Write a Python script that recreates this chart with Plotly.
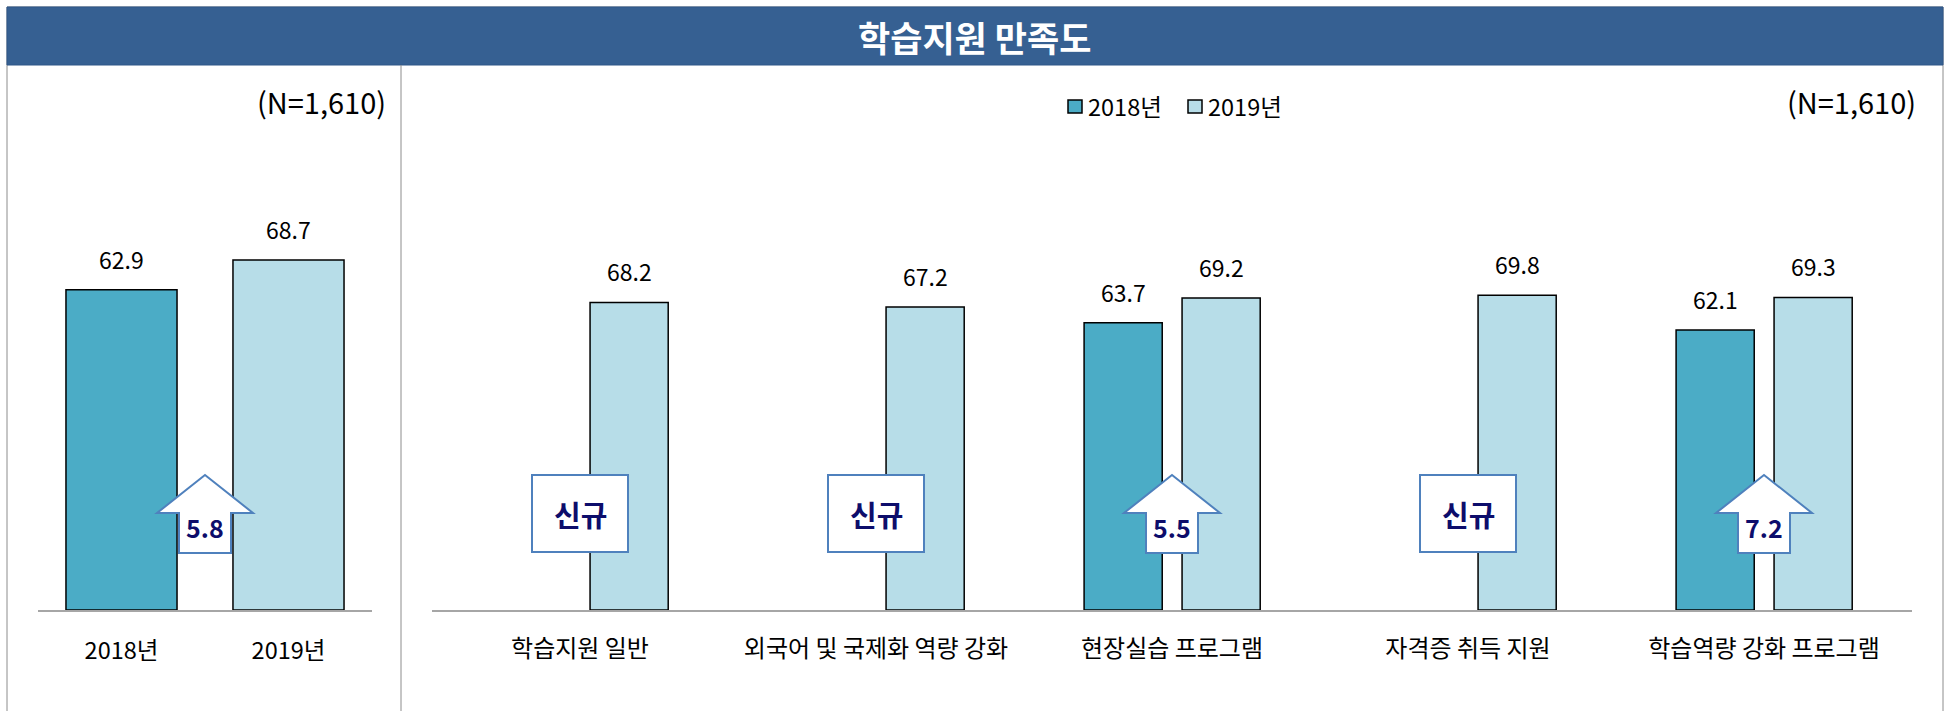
import plotly.graph_objects as go

# ---------------- data ----------------
title_text = "학습지원 만족도"
n_label = "(N=1,610)"
years = ["2018년", "2019년"]
overall_values = [62.9, 68.7]

categories = ["학습지원 일반", "외국어 및 국제화 역량 강화", "현장실습 프로그램",
              "자격증 취득 지원", "학습역량 강화 프로그램"]
values_2018 = [None, None, 63.7, None, 62.1]
values_2019 = [68.2, 67.2, 69.2, 69.8, 69.3]
new_label = "신규"

# ---------------- style ----------------
W, H = 1951, 711
FONT = "Noto Sans CJK KR"
C2018 = "#4BACC6"
C2019 = "#B7DDE8"
NAVY = "#0D0D6B"
ARROW_LINE = "#4F81BD"
BORDER = "#8C8C8C"
AXIS = "#A6A6A6"


def px(x):
    return x / W


def py(y):
    return 1 - y / H


Y_DOMAIN = [py(610), py(200)]
LEFT_RANGE = [0, 80.5]
RIGHT_RANGE = [0, 90.9]

BAR_W = 0.264
OFF_2018 = -0.297
OFF_2019 = 0.034

fig = go.Figure()

# left panel: overall
fig.add_trace(go.Bar(
    x=years, y=overall_values, xaxis="x", yaxis="y",
    marker=dict(color=[C2018, C2019], line=dict(color="black", width=1.5)),
    width=0.665, showlegend=False, hoverinfo="x+y"))

# right panel
fig.add_trace(go.Bar(
    x=categories, y=values_2018, xaxis="x2", yaxis="y2", name="2018년",
    marker=dict(color=C2018, line=dict(color="black", width=1.5)),
    width=BAR_W, offset=OFF_2018, showlegend=False))
fig.add_trace(go.Bar(
    x=categories, y=values_2019, xaxis="x2", yaxis="y2", name="2019년",
    marker=dict(color=C2019, line=dict(color="black", width=1.5)),
    width=BAR_W, offset=OFF_2019, showlegend=False))

annotations = []
shapes = []


def ann(**kw):
    kw.setdefault("showarrow", False)
    kw.setdefault("xanchor", "center")
    kw.setdefault("yanchor", "middle")
    annotations.append(kw)


VAL_FONT = dict(family=FONT, size=23, color="black")

# value labels
for i, v in enumerate(overall_values):
    ann(x=i, y=v, xref="x", yref="y", text=f"{v:.1f}", yshift=31, font=VAL_FONT)
for i, v in enumerate(values_2018):
    if v is not None:
        ann(x=i + OFF_2018 + BAR_W / 2, y=v, xref="x2", yref="y2",
            text=f"{v:.1f}", yshift=31, font=VAL_FONT)
for i, v in enumerate(values_2019):
    ann(x=i + OFF_2019 + BAR_W / 2, y=v, xref="x2", yref="y2",
        text=f"{v:.1f}", yshift=31, font=VAL_FONT)

# arrows / new boxes
TIP, HEAD, BOT = 475, 513, 553
HW, SW = 48, 26


def arrow_path():
    pts = [(0, TIP), (HW, HEAD), (SW, HEAD), (SW, BOT), (-SW, BOT), (-SW, HEAD), (-HW, HEAD)]
    return "M " + " L ".join(f"{x},{py(y):.5f}" for x, y in pts) + " Z"


def add_arrow(xref, xpos, diff):
    shapes.append(dict(type="path", xref=xref, yref="paper", xsizemode="pixel",
                       xanchor=xpos, path=arrow_path(), fillcolor="white",
                       line=dict(color=ARROW_LINE, width=2), layer="above"))
    ann(x=xpos, y=py(527), xref=xref, yref="paper", text=f"<b>{diff:.1f}</b>",
        font=dict(family=FONT, size=25, color=NAVY))


def add_new_box(xref, xpos):
    shapes.append(dict(type="rect", xref=xref, yref="paper", xsizemode="pixel",
                       xanchor=xpos, x0=-48, x1=48, y0=py(552), y1=py(475),
                       fillcolor="white", line=dict(color=ARROW_LINE, width=2),
                       layer="above"))
    ann(x=xpos, y=py(514), xref=xref, yref="paper", text=f"<b>{new_label}</b>",
        font=dict(family=FONT, size=29, color=NAVY))


add_arrow("x", 0.5, round(overall_values[1] - overall_values[0], 1))
for i, (a, b) in enumerate(zip(values_2018, values_2019)):
    if a is None:
        add_new_box("x2", i)
    else:
        add_arrow("x2", i, round(b - a, 1))

# frame
shapes += [
    dict(type="rect", xref="paper", yref="paper", x0=px(7), x1=px(1943), y0=py(712), y1=py(7),
         line=dict(color=BORDER, width=1), fillcolor="rgba(0,0,0,0)", layer="below"),
    dict(type="rect", xref="paper", yref="paper", x0=px(7), x1=px(1943), y0=py(65), y1=py(7),
         line=dict(color="#2F5788", width=1), fillcolor="#366092", layer="below"),
    dict(type="line", xref="paper", yref="paper", x0=px(401), x1=px(401), y0=py(65), y1=py(712),
         line=dict(color=BORDER, width=1), layer="below"),
]

ann(x=px(974), y=py(36), xref="paper", yref="paper", text=f"<b>{title_text}</b>",
    font=dict(family=FONT, size=35, color="white"))
ann(x=px(388), y=py(101), xref="paper", yref="paper", xanchor="right", text=n_label,
    font=dict(family=FONT, size=29, color="black"))
ann(x=px(1918), y=py(101), xref="paper", yref="paper", xanchor="right", text=n_label,
    font=dict(family=FONT, size=29, color="black"))

# manual legend
legend_items = [("2018년", C2018, 1068), ("2019년", C2019, 1188)]
for name, col, lx in legend_items:
    shapes.append(dict(type="rect", xref="paper", yref="paper", x0=px(lx), x1=px(lx + 14),
                       y0=py(113), y1=py(100), fillcolor=col,
                       line=dict(color="black", width=1.5)))
    ann(x=px(lx + 18), y=py(106), xref="paper", yref="paper", xanchor="left", text=name,
        font=dict(family=FONT, size=23.5, color="black"))

axis_common = dict(showline=True, linecolor=AXIS, linewidth=2, ticks="",
                   showgrid=False, zeroline=False, fixedrange=True)

fig.update_layout(
    width=W, height=H, margin=dict(l=0, r=0, t=0, b=0),
    paper_bgcolor="white", plot_bgcolor="white",
    barmode="group", showlegend=False,
    font=dict(family=FONT),
    xaxis=dict(domain=[px(38), px(372)], anchor="y", type="category",
               ticklabelstandoff=19,
               tickfont=dict(family=FONT, size=23.5, color="black"), **axis_common),
    yaxis=dict(domain=Y_DOMAIN, range=LEFT_RANGE, visible=False, fixedrange=True),
    xaxis2=dict(domain=[px(432), px(1912)], anchor="y2", type="category",
                ticklabelstandoff=16,
                tickfont=dict(family=FONT, size=24, color="black"), **axis_common),
    yaxis2=dict(domain=Y_DOMAIN, range=RIGHT_RANGE, visible=False, fixedrange=True),
    annotations=annotations, shapes=shapes,
)

fig.write_html("out.html", config={"displayModeBar": False},
               post_script="document.body.style.margin='0';document.body.style.overflow='hidden';")
